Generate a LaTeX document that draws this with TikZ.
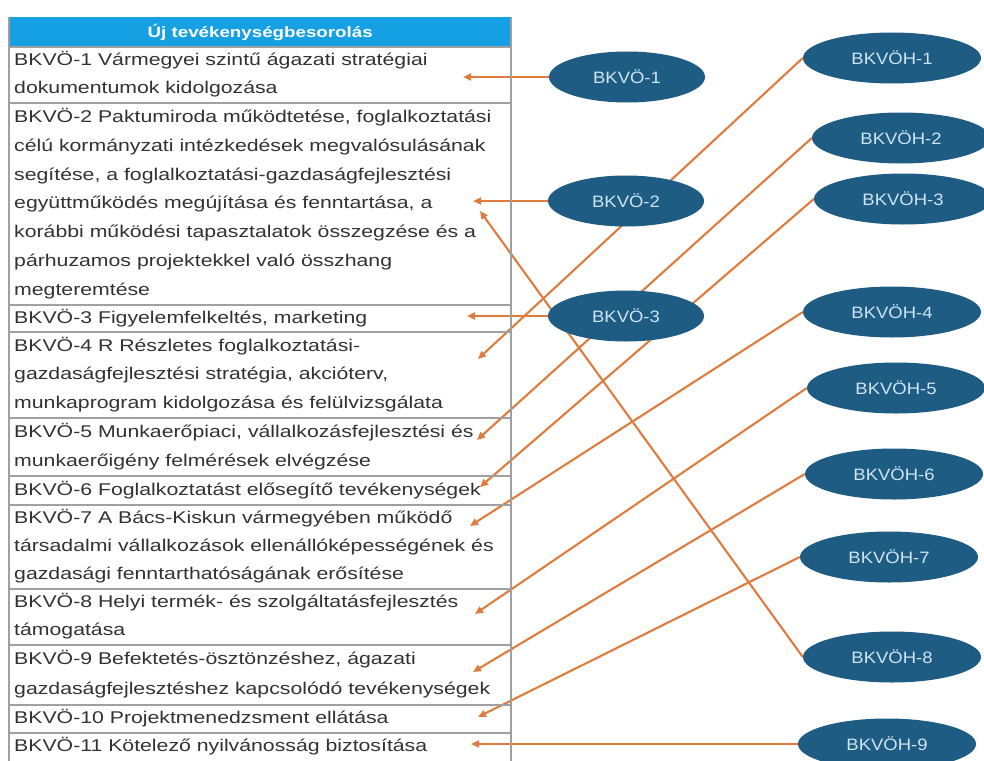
\documentclass[tikz,border=0pt]{standalone}
\usepackage{fontspec}
\setmainfont{Liberation Sans}
\newfontfamily\tabfont[FakeStretch=1.25]{Liberation Sans}
\newfontfamily\ellfont[FakeStretch=1.12]{Liberation Sans}
\usetikzlibrary{arrows.meta,shapes.geometric,backgrounds}
\definecolor{hdrblue}{RGB}{22,160,228}
\definecolor{ellblue}{RGB}{30,92,132}
\definecolor{elltext}{RGB}{205,228,242}
\definecolor{arr}{RGB}{222,124,62}
\definecolor{txt}{RGB}{50,50,50}
\definecolor{gridc}{RGB}{160,160,160}
\begin{document}
\begin{tikzpicture}[x=1pt,y=-1pt,
  tabtext/.style={anchor=base west, inner sep=0, text=txt, font=\tabfont\fontsize{17}{20}\selectfont},
  oval/.style={ellipse, fill=ellblue, minimum width=156pt, minimum height=51pt, inner sep=0, text=elltext, font=\ellfont\fontsize{16.5}{19}\selectfont},
  ovalh/.style={oval, minimum width=178pt},
  link/.style={draw=arr, line width=2.1pt, -{Triangle[length=8pt,width=7pt]}},
  sepline/.style={draw=gridc, line width=1.4pt}]
\useasboundingbox (0,0) rectangle (984,760);

% header
\node[fill=hdrblue, minimum width=502pt, minimum height=30pt, inner sep=0, anchor=north west,
      text=white, font=\tabfont\bfseries\fontsize{15}{18}\selectfont] (hdr) at (9,17) {Új tevékenységbesorolás};

% table frame and separators
\draw[sepline] (9,17) -- (9,765);
\draw[sepline] (511,17) -- (511,765);
\foreach \y in {47,103,305,332,418,476,505,589,645,705,733}
  \draw[sepline] (9,\y) -- (511,\y);

% table text
\foreach \n/\y/\t in {
  r1a/65.5/{BKVÖ-1 Vármegyei szintű ágazati stratégiai},
  r1b/93.5/{dokumentumok kidolgozása},
  r2a/122/{BKVÖ-2 Paktumiroda működtetése, foglalkoztatási},
  r2b/151/{célú kormányzati intézkedések megvalósulásának},
  r2c/180/{segítése, a foglalkoztatási-gazdaságfejlesztési},
  r2d/208.5/{együttműködés megújítása és fenntartása, a},
  r2e/237.5/{korábbi működési tapasztalatok összegzése és a},
  r2f/266/{párhuzamos projektekkel való összhang},
  r2g/295/{megteremtése},
  r3a/323/{BKVÖ-3 Figyelemfelkeltés, marketing},
  r4a/351/{BKVÖ-4 R Részletes foglalkoztatási-},
  r4b/379.5/{gazdaságfejlesztési stratégia, akcióterv,},
  r4c/408/{munkaprogram kidolgozása és felülvizsgálata},
  r5a/437/{BKVÖ-5 Munkaerőpiaci, vállalkozásfejlesztési és},
  r5b/466/{munkaerőigény felmérések elvégzése},
  r6a/495/{BKVÖ-6 Foglalkoztatást elősegítő tevékenységek},
  r7a/523.5/{BKVÖ-7 A Bács-Kiskun vármegyében működő},
  r7b/551.5/{társadalmi vállalkozások ellenállóképességének és},
  r7c/579.5/{gazdasági fenntarthatóságának erősítése},
  r8a/607.5/{BKVÖ-8 Helyi termék- és szolgáltatásfejlesztés},
  r8b/635.5/{támogatása},
  r9a/664.5/{BKVÖ-9 Befektetés-ösztönzéshez, ágazati},
  r9b/694.5/{gazdaságfejlesztéshez kapcsolódó tevékenységek},
  r10a/723.5/{BKVÖ-10 Projektmenedzsment ellátása},
  r11a/751.5/{BKVÖ-11 Kötelező nyilvánosság biztosítása}}
  \node[tabtext] (\n) at (14,\y) {\t};

% ellipses
\node[oval] (b1) at (627,77) {BKVÖ-1};
\node[oval] (b2) at (626,201) {BKVÖ-2};
\node[oval] (b3) at (626,316) {BKVÖ-3};
\node[ovalh] (h1) at (892,58) {BKVÖH-1};
\node[ovalh] (h2) at (901,138) {BKVÖH-2};
\node[ovalh] (h3) at (903,199) {BKVÖH-3};
\node[ovalh] (h4) at (892,312) {BKVÖH-4};
\node[ovalh] (h5) at (896,388) {BKVÖH-5};
\node[ovalh] (h6) at (894,474) {BKVÖH-6};
\node[ovalh] (h7) at (889,557) {BKVÖH-7};
\node[ovalh] (h8) at (892,657) {BKVÖH-8};
\node[ovalh] (h9) at (887,744) {BKVÖH-9};

% arrow tips
\coordinate (t1) at (463,77);
\coordinate (t2) at (473,201);
\coordinate (t2b) at (480,211);
\coordinate (t3) at (467,316);
\coordinate (t4) at (478,359);
\coordinate (t5) at (477,440);
\coordinate (t6) at (480,487);
\coordinate (t7) at (470,526);
\coordinate (t8) at (475,614);
\coordinate (t9) at (473,672);
\coordinate (t10) at (478,717);
\coordinate (t11) at (471,744);

\begin{pgfonlayer}{background}
  \fill[white] (0,0) rectangle (984,760);
  \draw[link] (b1.west) -- (t1);
  \draw[link] (b2.west) -- (t2);
  \draw[link] (b3.west) -- (t3);
  \draw[link] (h1.west) -- (t4);
  \draw[link] (h2.west) -- (t5);
  \draw[link] (h3.west) -- (t6);
  \draw[link] (h4.west) -- (t7);
  \draw[link] (h5.west) -- (t8);
  \draw[link] (h6.west) -- (t9);
  \draw[link] (h7.west) -- (t10);
  \draw[link] (h8.west) -- (t2b);
  \draw[link] (h9.west) -- (t11);
\end{pgfonlayer}
\end{tikzpicture}
\end{document}
